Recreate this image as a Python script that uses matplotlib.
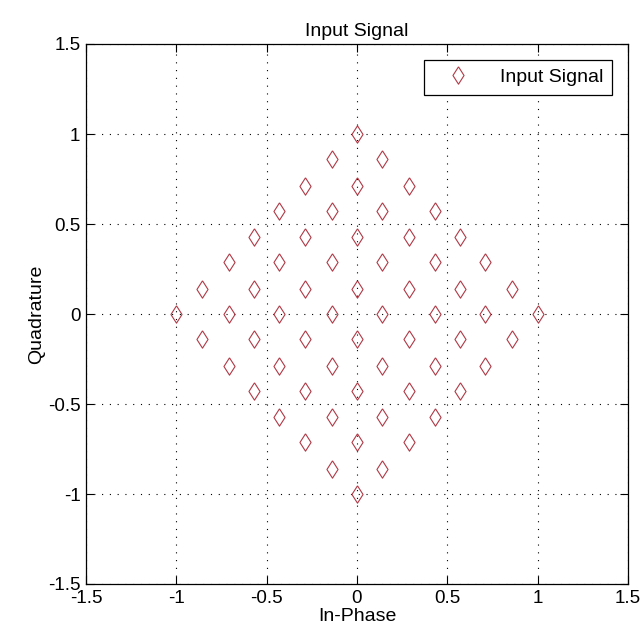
import matplotlib
matplotlib.use('Agg')
import matplotlib.pyplot as plt

# constellation points, row by row (top -> bottom)
y_rows = [1.0, 0.86, 0.71, 0.57, 0.43, 0.29, 0.14, 0.0,
          -0.14, -0.29, -0.43, -0.57, -0.71, -0.86, -1.0]
x_rows = [
    [0.0],
    [-0.14, 0.14],
    [-0.29, 0.0, 0.29],
    [-0.43, -0.14, 0.14, 0.43],
    [-0.57, -0.29, 0.0, 0.29, 0.57],
    [-0.71, -0.43, -0.14, 0.14, 0.43, 0.71],
    [-0.86, -0.57, -0.29, 0.0, 0.29, 0.57, 0.86],
    [-1.0, -0.71, -0.43, -0.14, 0.14, 0.43, 0.71, 1.0],
    [-0.86, -0.57, -0.29, 0.0, 0.29, 0.57, 0.86],
    [-0.71, -0.43, -0.14, 0.14, 0.43, 0.71],
    [-0.57, -0.29, 0.0, 0.29, 0.57],
    [-0.43, -0.14, 0.14, 0.43],
    [-0.29, 0.0, 0.29],
    [-0.14, 0.14],
    [0.0],
]
ticks = [-1.5, -1, -0.5, 0, 0.5, 1, 1.5]
tick_labels = ['-1.5', '-1', '-0.5', '0', '0.5', '1', '1.5']

xs = [x for row in x_rows for x in row]
ys = [y for y, row in zip(y_rows, x_rows) for _ in row]

plt.rcParams['font.family'] = ['Liberation Sans', 'DejaVu Sans']

fig = plt.figure(figsize=(6.41, 6.43), dpi=100)
ax = fig.add_axes([86 / 641, 1 - 584 / 643, 542 / 641, 540 / 643])

# MATLAB-ish diamond, a bit taller than wide
diamond = [(0, 1), (0.64, 0), (0, -1), (-0.64, 0), (0, 1)]
ax.plot(xs, ys, linestyle='none', marker=diamond, markersize=12.5,
        markerfacecolor='none', markeredgecolor='#b03a46',
        markeredgewidth=0.8, label='Input Signal')

ax.set_xlim(-1.5, 1.5)
ax.set_ylim(-1.5, 1.5)
ax.set_xticks(ticks)
ax.set_xticklabels(tick_labels)
ax.set_yticks(ticks)
ax.set_yticklabels(tick_labels)
ax.tick_params(direction='in', top=True, right=True, length=6, width=0.8,
               labelsize=13.5, pad=4)
ax.grid(True, linestyle=(0, (1, 6)), color='black', linewidth=0.8)
for s in ax.spines.values():
    s.set_linewidth(0.9)

ax.set_title('Input Signal', fontsize=14, pad=6)
ax.set_xlabel('In-Phase', fontsize=14, labelpad=1)
ax.set_ylabel('Quadrature', fontsize=14, labelpad=2)

leg = ax.legend(loc='upper right', fontsize=14, fancybox=False,
                framealpha=1, edgecolor='black', borderaxespad=0.8,
                handlelength=2.6, handletextpad=0.9, borderpad=0.45)
leg.get_frame().set_linewidth(0.9)

fig.savefig('out.png', dpi=100)
